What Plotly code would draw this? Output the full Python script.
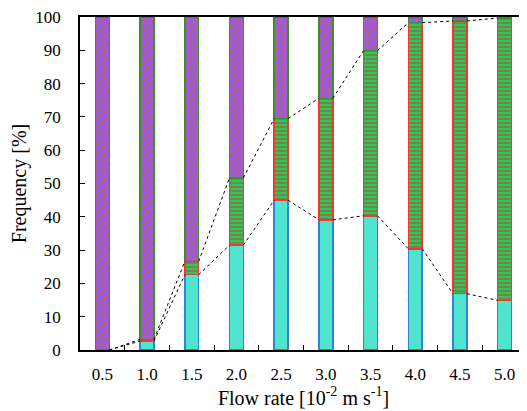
import plotly.graph_objects as go

categories = ["0.5", "1.0", "1.5", "2.0", "2.5", "3.0", "3.5", "4.0", "4.5", "5.0"]
low_share = [0, 2.7, 22.6, 31.5, 45.0, 39.1, 40.3, 30.4, 16.9, 14.9]
mid_share = [0, 0.5, 4.0, 20.2, 24.5, 36.5, 49.6, 67.9, 81.9, 84.8]
high_share = [100, 96.8, 73.4, 48.3, 30.5, 24.4, 10.1, 1.7, 1.2, 0.3]

BAR_W = 0.31
xs = list(range(len(categories)))

fig = go.Figure()

styles = [
    (low_share, "#33f0e0", "#cbb088", "\\", "#2f86d0", 5, 0.4),
    (mid_share, "#1fcc5e", "#ee3030", "-", "#f03a2e", 4, 0.5),
    (high_share, "#8f5cf0", "#e8601a", "/", "#3b8f2a", 6, 0.45),
]
for vals, bg, fg, shape, edge, size, sol in styles:
    fig.add_trace(go.Bar(
        x=xs, y=vals, width=BAR_W,
        marker=dict(color=bg, line=dict(color=edge, width=1.5),
                    pattern=dict(shape=shape, fgcolor=fg, bgcolor=bg,
                                 size=size, solidity=sol, fillmode="overlay")),
        showlegend=False, hoverinfo="skip"))

# series lines (corner to corner) for cumulative tops
cum = [0] * len(categories)
for vals in (low_share, mid_share):
    cum = [c + v for c, v in zip(cum, vals)]
    lx, ly = [], []
    for i in range(len(categories) - 1):
        lx += [xs[i] + BAR_W / 2, xs[i + 1] - BAR_W / 2, None]
        ly += [cum[i], cum[i + 1], None]
    fig.add_trace(go.Scatter(x=lx, y=ly, mode="lines",
                             line=dict(color="black", width=1, dash="dot"),
                             showlegend=False, hoverinfo="skip"))

fig.update_layout(
    barmode="stack",
    width=519, height=403,
    margin=dict(l=72, r=0, t=7, b=61),
    paper_bgcolor="white", plot_bgcolor="white",
    font=dict(family="Liberation Serif", size=17, color="black"),
    xaxis=dict(
        range=[-0.5, len(categories) - 0.5],
        tickvals=xs, ticktext=categories, ticks="", ticklabelstandoff=8,
        ticklabeloverflow="allow",
        showgrid=False, zeroline=False,
        showline=True, linecolor="black", linewidth=1.5, mirror=True,
        minor=dict(tickvals=[i + 0.5 for i in xs[:-1]], ticks="inside",
                   ticklen=5, tickcolor="black", tickwidth=1),
        title=dict(text="Flow rate [10<sup>-2</sup> m s<sup>-1</sup>]",
                   font=dict(size=20), standoff=6),
    ),
    yaxis=dict(
        range=[0, 100], tickvals=list(range(0, 101, 10)),
        ticks="inside", ticklen=5, tickcolor="black", ticklabelstandoff=14,
        ticklabeloverflow="allow",
        showgrid=False, zeroline=False,
        showline=True, linecolor="black", linewidth=1.5, mirror=False,
        title=dict(text="Frequency [%]", font=dict(size=20), standoff=10),
    ),
)

fig.write_html("out.html")
